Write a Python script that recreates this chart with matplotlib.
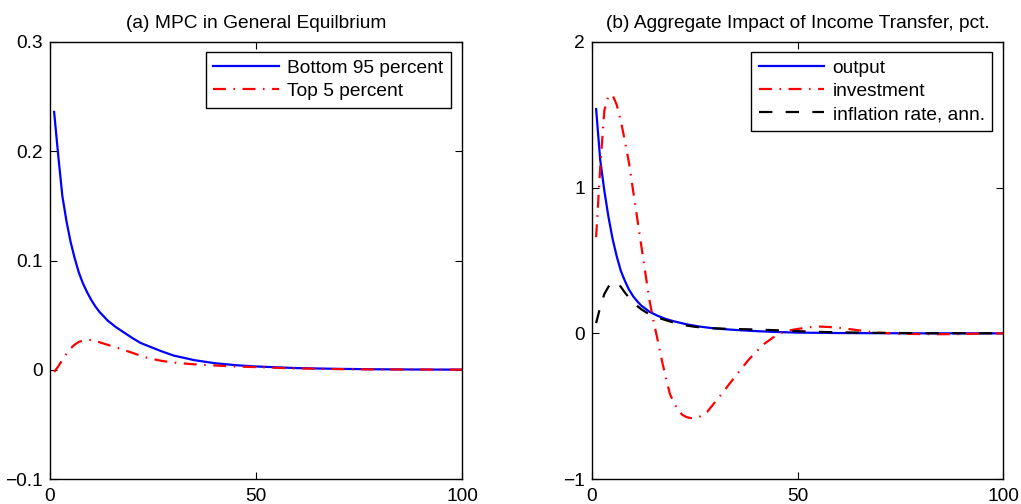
import matplotlib
matplotlib.use("Agg")
import matplotlib.pyplot as plt

plt.rcParams['font.family'] = ['Liberation Sans', 'DejaVu Sans']
plt.rcParams['axes.unicode_minus'] = True

# ---- Panel (a): MPC in general equilibrium ----
mpc_t = [1, 2, 3, 4, 5, 6, 7, 8, 9, 10, 11, 12, 14, 16, 18, 20, 22, 24, 27, 30,
         35, 40, 45, 50, 60, 70, 80, 90, 100]
mpc_bottom95 = [0.236, 0.196, 0.159, 0.136, 0.117, 0.102, 0.089, 0.079, 0.071, 0.064,
                0.058, 0.053, 0.045, 0.039, 0.034, 0.029, 0.0245, 0.0215, 0.017, 0.013,
                0.0088, 0.006, 0.0042, 0.003, 0.0015, 0.0008, 0.0004, 0.0002, 0.0001]
mpc_top5 = [-0.002, 0.003, 0.009, 0.0145, 0.0195, 0.023, 0.0255, 0.0268, 0.0273, 0.0272,
            0.0265, 0.0252, 0.0228, 0.0205, 0.018, 0.0155, 0.0128, 0.0105, 0.0082, 0.0065,
            0.005, 0.0039, 0.003, 0.0024, 0.0012, 0.0006, 0.0003, 0.0002, 0.0001]

# ---- Panel (b): aggregate impact of income transfer, pct. ----
out_t = [1, 2, 3, 4, 5, 6, 7, 8, 9, 10, 11, 12, 14, 16, 18, 20, 23, 26, 30, 35,
         40, 45, 50, 60, 70, 80, 90, 100]
output = [1.54, 1.19, 0.98, 0.80, 0.65, 0.53, 0.43, 0.36, 0.30, 0.255, 0.22, 0.19,
          0.148, 0.12, 0.098, 0.082, 0.062, 0.047, 0.033, 0.023, 0.015, 0.009, 0.005,
          0.002, 0.001, 0.0, 0.0, 0.0]

inv_t = [1, 2, 3, 4, 5, 6, 7, 8, 9, 10, 11, 12, 13, 14, 15, 16, 17, 18, 19, 20,
         21, 22, 23, 24, 25, 26, 27, 28, 30, 32, 35, 38, 40, 42, 44, 46, 48, 50,
         53, 55, 58, 61, 64, 67, 70, 75, 80, 85, 90, 95, 100]
investment = [0.66, 1.14, 1.53, 1.63, 1.635, 1.57, 1.46, 1.32, 1.17, 0.98,
              0.79, 0.60, 0.41, 0.225, 0.08, -0.05, -0.185, -0.31, -0.42, -0.48,
              -0.53, -0.56, -0.575, -0.582, -0.582, -0.575, -0.56, -0.54, -0.47, -0.40,
              -0.29, -0.185, -0.125, -0.07, -0.03, 0.003, 0.02, 0.03,
              0.042, 0.047, 0.043, 0.035, 0.024, 0.013, 0.004, -0.003, -0.005, -0.006,
              -0.005, -0.002, 0.0]

infl_t = [1, 2, 3, 4, 5, 6, 7, 8, 9, 10, 11, 12, 14, 16, 18, 20, 22, 25, 28, 32,
          36, 40, 45, 50, 55, 60, 65, 70, 80, 90, 100]
inflation = [0.07, 0.18, 0.27, 0.32, 0.35, 0.352, 0.32, 0.28, 0.245, 0.215,
             0.188, 0.165, 0.13, 0.108, 0.09, 0.073, 0.058, 0.045, 0.037, 0.032,
             0.029, 0.026, 0.021, 0.015, 0.010, 0.007, 0.005, 0.003, 0.001, 0.0005, 0.0]

FS = 13.8
LW = 1.6
DASHDOT = (0, (5.8, 3.4, 0.7, 3.4))
DASHED = (0, (6.0, 6.0))

W, H = 1021, 504
fig = plt.figure(figsize=(W / 100, H / 100), dpi=100)

ax1 = fig.add_axes([50 / W, 1 - 479 / H, (462 - 50) / W, (479 - 42) / H])
ax2 = fig.add_axes([592 / W, 1 - 479 / H, (1003 - 592) / W, (479 - 42) / H])


def style(ax, yticks, ylim, title):
    ax.set_xlim(0, 100)
    ax.set_ylim(*ylim)
    ax.set_xticks([0, 50, 100])
    ax.set_yticks(yticks)
    ax.tick_params(direction='in', length=5, width=0.8, top=True, right=True,
                   labelsize=FS, color='black')
    ax.tick_params(axis='x', pad=6.5)
    ax.tick_params(axis='y', pad=5)
    for s in ax.spines.values():
        s.set_linewidth(1.0)
        s.set_color('black')
    ax.set_title(title, fontsize=FS, pad=10)


ax1.plot(mpc_t, mpc_bottom95, color='#0000ff', lw=LW, label='Bottom 95 percent')
ax1.plot(mpc_t, mpc_top5, color='#ff0000', lw=LW, linestyle=DASHDOT, label='Top 5 percent')
style(ax1, [-0.1, 0, 0.1, 0.2, 0.3], (-0.1, 0.3), '(a) MPC in General Equilbrium')
ax1.set_yticklabels(['\u22120.1', '0', '0.1', '0.2', '0.3'])

ax2.plot(out_t, output, color='#0000ff', lw=LW, label='output')
ax2.plot(inv_t, investment, color='#ff0000', lw=LW, linestyle=DASHDOT, label='investment')
ax2.plot(infl_t, inflation, color='black', lw=LW, linestyle=DASHED, label='inflation rate, ann.')
style(ax2, [-1, 0, 1, 2], (-1, 2), '(b) Aggregate Impact of Income Transfer, pct.')
ax2.set_yticklabels(['\u22121', '0', '1', '2'])

for ax, corner in ((ax1, (451, 51.7)), (ax2, (992.3, 51.7))):
    leg = ax.legend(loc='upper right',
                    bbox_to_anchor=(corner[0] / W, 1 - corner[1] / H),
                    bbox_transform=fig.transFigure, borderaxespad=0,
                    fontsize=FS, handlelength=3.4, handletextpad=0.45,
                    labelspacing=0.3, borderpad=0.4, fancybox=False,
                    framealpha=1, edgecolor='black')
    leg.get_frame().set_linewidth(1.0)

fig.savefig('out.png', dpi=100)
